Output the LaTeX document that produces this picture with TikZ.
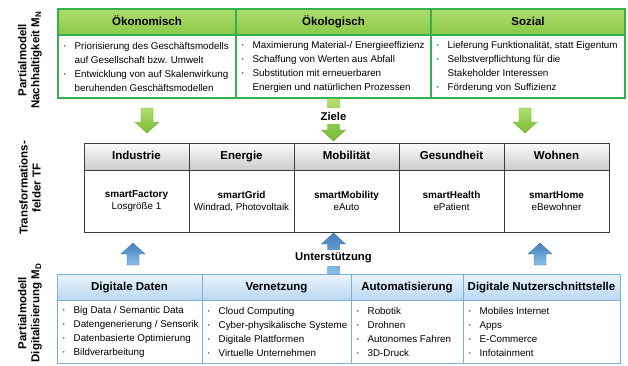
\documentclass[tikz,border=0pt]{standalone}
\usepackage{fontspec}
\setmainfont{Liberation Sans}
\usetikzlibrary{calc}

%% colours of the three layers
\definecolor{nhline}{RGB}{52,176,78}
\definecolor{nhtop}{RGB}{172,220,108}
\definecolor{nhbot}{RGB}{140,200,72}
\definecolor{tfline}{RGB}{60,60,60}
\definecolor{tftop}{RGB}{252,252,252}
\definecolor{tfbot}{RGB}{204,204,204}
\definecolor{mdline}{RGB}{125,175,218}
\definecolor{mdtop}{RGB}{234,244,252}
\definecolor{mdbot}{RGB}{186,216,242}
\definecolor{bulblue}{RGB}{70,110,170}
\definecolor{gatop}{RGB}{178,224,112}
\definecolor{gabot}{RGB}{118,188,48}
\definecolor{batop}{RGB}{68,128,188}
\definecolor{babot}{RGB}{138,192,234}

\newcommand{\headfont}{\fontsize{11.5}{13}\selectfont\bfseries}
\newcommand{\bodyfont}{\fontsize{9.8}{14}\selectfont}
\newcommand{\bul}{\makebox[11pt][l]{\raisebox{0.6pt}{\textcolor{bulblue}{\fontsize{6.5}{6.5}\selectfont •}}}}
\newcommand{\ind}{\hspace*{11pt}}

%% block arrows between two named points
\newcommand{\garrowdown}[3]{%
  \path[#1] let \p1=(#2), \p2=(#3) in
    (\x1-6pt,\y1) -- (\x1+6pt,\y1) -- (\x1+6pt,\y2+11pt) -- (\x1+12pt,\y2+11pt)
    -- (\x1,\y2) -- (\x1-12pt,\y2+11pt) -- (\x1-6pt,\y2+11pt) -- cycle;}
\newcommand{\barrowup}[3]{%
  \path[#1] let \p1=(#2), \p2=(#3) in
    (\x1-6pt,\y1) -- (\x1+6pt,\y1) -- (\x1+6pt,\y2-11pt) -- (\x1+12pt,\y2-11pt)
    -- (\x1,\y2) -- (\x1-12pt,\y2-11pt) -- (\x1-6pt,\y2-11pt) -- cycle;}

\begin{document}
\begin{tikzpicture}[x=1pt, y=-1pt,
    nhhead/.style={draw=nhline, line width=1.1pt, top color=nhtop, bottom color=nhbot,
      minimum height=26pt, inner sep=0pt, text height=8.3pt, text depth=2.3pt, font=\headfont},
    nhcell/.style={draw=nhline, line width=1.1pt, fill=white, minimum height=63pt, inner sep=0pt},
    tfhead/.style={draw=tfline, line width=0.6pt, top color=tftop, bottom color=tfbot,
      minimum width=105pt, minimum height=27pt, inner sep=0pt, text height=8.3pt, text depth=2.3pt,
      font=\headfont},
    tfcell/.style={draw=tfline, line width=0.6pt, fill=white, minimum width=105pt,
      minimum height=62pt, inner sep=0pt, align=center},
    mdhead/.style={draw=mdline, line width=1pt, top color=mdtop, bottom color=mdbot,
      minimum height=26pt, inner sep=0pt, text height=8.3pt, text depth=2.3pt, font=\headfont},
    mdcell/.style={draw=mdline, line width=1pt, fill=white, minimum height=63pt, inner sep=0pt},
    bodytxt/.style={anchor=west, xshift=6pt, inner sep=0pt, align=left, font=\bodyfont},
    sidelabel/.style={rotate=90, align=center, inner sep=0pt,
      font=\fontsize{11.5}{13}\selectfont\bfseries},
    greenarrow/.style={top color=gatop, bottom color=gabot, draw=gabot!85!black, line width=0.3pt},
    bluearrow/.style={top color=batop, bottom color=babot, draw=batop!85!black, line width=0.3pt},
    arrlabel/.style={fill=white, inner xsep=2pt, inner ysep=0pt, minimum height=16pt,
      font=\fontsize{11.3}{13}\selectfont\bfseries}]
\useasboundingbox (0,0) rectangle (628,365);

%% side labels
\node[sidelabel] (mn) at (30,60) {Partialmodell\\Nachhaltigkeit M\textsubscript{N}};
\node[sidelabel] (tf) at (30,188) {Transformations-\\felder TF};
\node[sidelabel] (md) at (30,313) {Partialmodell\\Digitalisierung M\textsubscript{D}};

%% Partialmodell Nachhaltigkeit
\node[nhcell, minimum width=178pt] (oek-b) at (147,66.5) {};
\node[nhcell, minimum width=195pt] (oko-b) at (333.5,66.5) {};
\node[nhcell, minimum width=194pt] (soz-b) at (528,66.5) {};
\node[nhhead, minimum width=178pt] (oek) at (147,22) {Ökonomisch};
\node[nhhead, minimum width=195pt] (oko) at (333.5,22) {Ökologisch};
\node[nhhead, minimum width=194pt] (soz) at (528,22) {Sozial};
\node[bodytxt] (oek-t) at (oek-b.west) {\bul Priorisierung des Geschäftsmodells\\
  \ind auf Gesellschaft bzw. Umwelt\\
  \bul Entwicklung von auf Skalenwirkung\\
  \ind beruhenden Geschäftsmodellen};
\node[bodytxt] (oko-t) at (oko-b.west) {\bul Maximierung Material-/ Energieeffizienz\\
  \bul Schaffung von Werten aus Abfall\\
  \bul Substitution mit erneuerbaren\\
  \ind Energien und natürlichen Prozessen};
\node[bodytxt] (soz-t) at (soz-b.west) {\bul Lieferung Funktionalität, statt Eigentum\\
  \bul Selbstverpflichtung für die\\
  \ind Stakeholder Interessen\\
  \bul Förderung von Suffizienz};

%% Transformationsfelder
\node[tfhead] (ind) at (136.5,156.5) {Industrie};
\node[tfhead] (ene) at (241.5,156.5) {Energie};
\node[tfhead] (mob) at (346.5,156.5) {Mobilität};
\node[tfhead] (ges) at (451.5,156.5) {Gesundheit};
\node[tfhead] (woh) at (556.5,156.5) {Wohnen};
\node[tfcell] (ind-b) at (136.5,201) {\fontsize{10}{15}\selectfont\textbf{smartFactory}\\\fontsize{9.8}{15}\selectfont Losgröße 1};
\node[tfcell] (ene-b) at (241.5,201) {\fontsize{10}{15}\selectfont\textbf{smartGrid}\\\fontsize{9.8}{15}\selectfont Windrad, Photovoltaik};
\node[tfcell] (mob-b) at (346.5,201) {\fontsize{10}{15}\selectfont\textbf{smartMobility}\\\fontsize{9.8}{15}\selectfont eAuto};
\node[tfcell] (ges-b) at (451.5,201) {\fontsize{10}{15}\selectfont\textbf{smartHealth}\\\fontsize{9.8}{15}\selectfont ePatient};
\node[tfcell] (woh-b) at (556.5,201) {\fontsize{10}{15}\selectfont\textbf{smartHome}\\\fontsize{9.8}{15}\selectfont eBewohner};

%% Partialmodell Digitalisierung
\node[mdcell, minimum width=145pt] (dat-b) at (129.5,331.5) {};
\node[mdcell, minimum width=149pt] (ver-b) at (276.5,331.5) {};
\node[mdcell, minimum width=112pt] (aut-b) at (407,331.5) {};
\node[mdcell, minimum width=157pt] (nut-b) at (541.5,331.5) {};
\node[mdhead, minimum width=145pt] (dat) at (129.5,287) {Digitale Daten};
\node[mdhead, minimum width=149pt] (ver) at (276.5,287) {Vernetzung};
\node[mdhead, minimum width=112pt] (aut) at (407,287) {Automatisierung};
\node[mdhead, minimum width=157pt] (nut) at (541.5,287) {Digitale Nutzerschnittstelle};
\node[bodytxt] (dat-t) at (dat-b.west) {\bul Big Data / Semantic Data\\
  \bul Datengenerierung / Sensorik\\
  \bul Datenbasierte Optimierung\\
  \bul Bildverarbeitung};
\node[bodytxt] (ver-t) at (ver-b.west) {\bul Cloud Computing\\
  \bul Cyber-physikalische Systeme\\
  \bul Digitale Plattformen\\
  \bul Virtuelle Unternehmen};
\node[bodytxt] (aut-t) at (aut-b.west) {\bul Robotik\\
  \bul Drohnen\\
  \bul Autonomes Fahren\\
  \bul 3D-Druck};
\node[bodytxt] (nut-t) at (nut-b.west) {\bul Mobiles Internet\\
  \bul Apps\\
  \bul E-Commerce\\
  \bul Infotainment};

%% Ziele
\coordinate (g1a) at (147,108);
\coordinate (g1b) at (147,133);
\coordinate (g3a) at (525,108);
\coordinate (g3b) at (525,133);
\coordinate (g2b) at (333.5,141);
\garrowdown{greenarrow}{g1a}{g1b}
\garrowdown{greenarrow}{g3a}{g3b}
\garrowdown{greenarrow}{oko-b.south}{g2b}
\node[arrlabel] (ziele) at (333.5,116) {Ziele};

%% Unterstuetzung
\coordinate (b1a) at (133,265);
\coordinate (b1b) at (133,243);
\coordinate (b4a) at (540,265);
\coordinate (b4b) at (540,243);
\coordinate (b2a) at (333.5,274);
\coordinate (b2b) at (333.5,233);
\barrowup{bluearrow}{b1a}{b1b}
\barrowup{bluearrow}{b4a}{b4b}
\barrowup{bluearrow}{b2a}{b2b}
\node[arrlabel] (unter) at (333.5,258) {Unterstützung};
\end{tikzpicture}
\end{document}
